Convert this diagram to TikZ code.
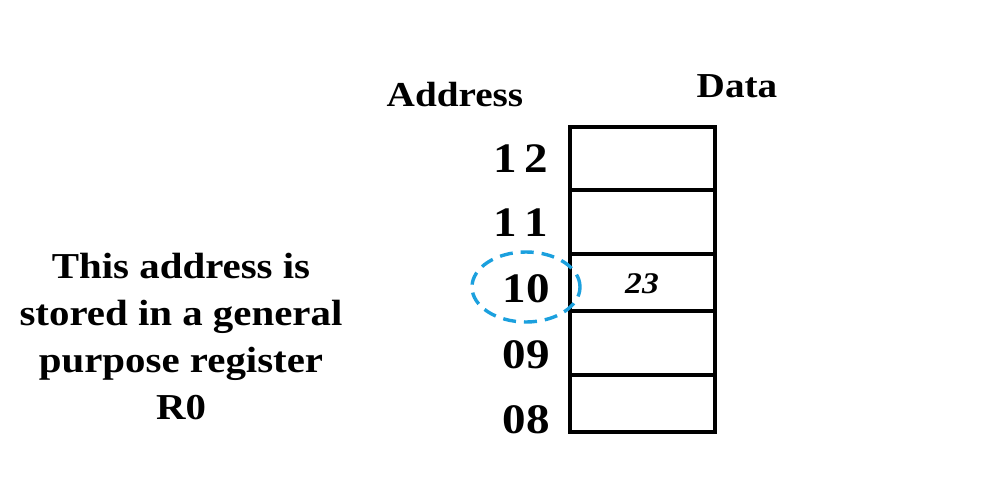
\documentclass[tikz,border=0pt]{standalone}
\usepackage{fontspec}
\setmainfont{Liberation Serif}[FakeStretch=1.12]
\usetikzlibrary{shapes.geometric}
\definecolor{ringblue}{RGB}{27,160,222}
\tikzset{
  lbl/.style={font=\bfseries\fontsize{35}{40}\selectfont, inner sep=0pt},
  num/.style={font=\bfseries\fontsize{42}{46}\selectfont, inner sep=0pt, anchor=base east},
  cell/.style={draw, line width=3.4pt, minimum width=145pt, inner sep=0pt},
  ring/.style={draw=ringblue, ellipse, line width=3.4pt, dash pattern=on 13pt off 8pt, minimum width=108pt, minimum height=70pt, inner sep=0pt}
}
\begin{document}
\begin{tikzpicture}[x=1pt,y=-1pt]
\useasboundingbox (0,0) rectangle (991,500);
% memory cells
\node[cell, minimum height=63pt] (c12) at (642.5,158.5) {};
\node[cell, minimum height=64pt] (c11) at (642.5,222) {};
\node[cell, minimum height=57pt] (c10) at (642.5,282.5) {};
\node[cell, minimum height=64pt] (c09) at (642.5,343) {};
\node[cell, minimum height=57pt] (c08) at (642.5,403.5) {};
\node[font=\bfseries\itshape\fontsize{30}{34}\selectfont, inner sep=0pt, anchor=base] (v23) at (642,293) {23};
% headers
\node[lbl, anchor=base] (addr) at (455,107) {Address};
\node[lbl, anchor=base] (data) at (737,98) {Data};
% addresses
\node[num] (a12) at (548,172) {1\,2};
\node[num] (a11) at (548,236) {1\,1};
\node[num] (a10) at (550,302) {10};
\node[num] (a09) at (550,368) {09};
\node[num] (a08) at (550,433) {08};
% dashed ring
\node[ring] (ring) at (526,287) {};
% note
\node[lbl, align=center, anchor=north, font=\bfseries\fontsize{36.5}{47}\selectfont] (note) at (181,253) {This address is\\stored in a general\\purpose register\\R0};
\end{tikzpicture}
\end{document}
